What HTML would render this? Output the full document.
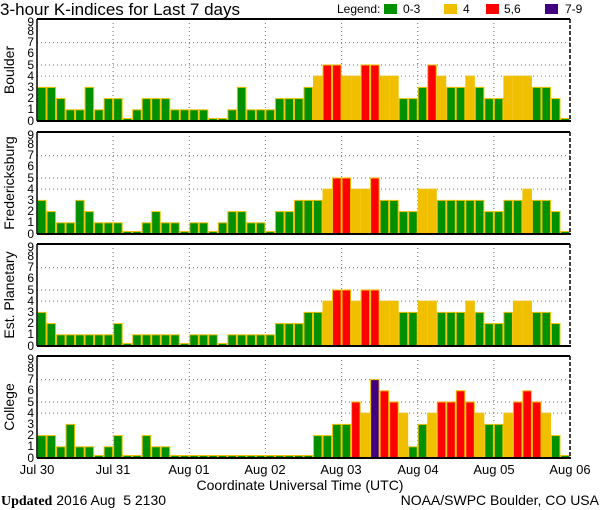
<!DOCTYPE html>
<html><head><meta charset="utf-8"><style>
html,body{margin:0;padding:0;background:#fff;}
svg{display:block;font-family:"Liberation Sans",sans-serif;}
</style></head><body>
<svg id="s" width="600" height="510" viewBox="0 0 600 510" xmlns="http://www.w3.org/2000/svg">
<rect width="600" height="510" fill="#fff"/>
<text x="0" y="15" font-size="17" fill="#000">3-hour K-indices for Last 7 days</text>
<text x="337" y="13" font-size="12">Legend:</text>
<rect x="384" y="4" width="13" height="10" fill="#009000"/><text x="403" y="13" font-size="12">0-3</text>
<rect x="444" y="4" width="13" height="10" fill="#f0c000"/><text x="463" y="13" font-size="12">4</text>
<rect x="486" y="4" width="13" height="10" fill="#ff0000"/><text x="504" y="13" font-size="12">5,6</text>
<rect x="545" y="4" width="13" height="10" fill="#400080"/><text x="565" y="13" font-size="12">7-9</text>
<g id="panels"></g>
<g font-size="12" text-anchor="end">
<g transform="translate(0,19)"><text x="34" y="106">0</text><text x="34" y="94">1</text><text x="34" y="83">2</text><text x="34" y="72">3</text><text x="34" y="61">4</text><text x="34" y="50">5</text><text x="34" y="38">6</text><text x="34" y="27">7</text><text x="34" y="16">8</text><text x="34" y="7">9</text></g>
<g transform="translate(0,132)"><text x="34" y="106">0</text><text x="34" y="94">1</text><text x="34" y="83">2</text><text x="34" y="72">3</text><text x="34" y="61">4</text><text x="34" y="50">5</text><text x="34" y="38">6</text><text x="34" y="27">7</text><text x="34" y="16">8</text><text x="34" y="7">9</text></g>
<g transform="translate(0,244)"><text x="34" y="106">0</text><text x="34" y="94">1</text><text x="34" y="83">2</text><text x="34" y="72">3</text><text x="34" y="61">4</text><text x="34" y="50">5</text><text x="34" y="38">6</text><text x="34" y="27">7</text><text x="34" y="16">8</text><text x="34" y="7">9</text></g>
<g transform="translate(0,356)"><text x="34" y="106">0</text><text x="34" y="94">1</text><text x="34" y="83">2</text><text x="34" y="72">3</text><text x="34" y="61">4</text><text x="34" y="50">5</text><text x="34" y="38">6</text><text x="34" y="27">7</text><text x="34" y="16">8</text><text x="34" y="7">9</text></g>
</g>
<g font-size="14" text-anchor="middle">
<text transform="translate(14,70) rotate(-90)">Boulder</text>
<text transform="translate(14,183) rotate(-90)">Fredericksburg</text>
<text transform="translate(14,295) rotate(-90)">Est. Planetary</text>
<text transform="translate(14,407) rotate(-90)">College</text>
</g>
<g font-size="13" text-anchor="middle">
<text x="37" y="474">Jul 30</text>
<text x="113" y="474">Jul 31</text>
<text x="189" y="474">Aug 01</text>
<text x="265" y="474">Aug 02</text>
<text x="341" y="474">Aug 03</text>
<text x="418" y="474">Aug 04</text>
<text x="494" y="474">Aug 05</text>
<text x="570" y="474">Aug 06</text>
<text x="300" y="490" font-size="14">Coordinate Universal Time (UTC)</text>
</g>
<text x="1" y="505" font-size="14" font-family="Liberation Serif,serif" style="white-space:pre"><tspan font-weight="bold">Updated</tspan><tspan font-family="Liberation Sans,sans-serif"> 2016 Aug  5 2130</tspan></text>
<text x="599" y="505" font-size="14" text-anchor="end">NOAA/SWPC Boulder, CO USA</text>
</svg>
<script>
var data=[
[3,3,2,1,1,3,1,2, 2,0,1,2,2,2,1,1, 1,1,0,0,1,3,1,1, 1,2,2,2,3,4,5,5, 4,4,5,5,4,4,2,2, 3,5,4,3,3,4,3,2, 2,4,4,4,3,3,2,0],
[3,2,1,1,3,2,1,1, 1,0,0,1,2,1,1,0, 1,1,0,1,2,2,1,1, 0,2,2,3,3,3,4,5, 5,4,4,5,3,3,2,2, 4,4,3,3,3,3,3,2, 2,3,3,4,3,3,2,0],
[3,2,1,1,1,1,1,1, 2,0,1,1,1,1,1,0, 1,1,1,0,1,1,1,1, 1,2,2,2,3,3,4,5, 5,4,5,5,4,4,3,3, 4,4,3,3,3,4,3,2, 2,3,4,4,3,3,2,-1],
[2,2,1,3,1,1,0,1, 2,0,0,2,1,1,0,0, 0,0,0,0,0,0,0,0, 0,0,0,0,0,2,2,3, 3,5,4,7,6,5,4,1, 3,4,5,5,6,5,4,3, 3,4,5,6,5,4,2,0]];
var tops=[19,132,244,356],H=102,U=11.2,X0=37,X1=570,W=(X1-X0)/56;
var ns="http://www.w3.org/2000/svg",g=document.getElementById("panels");
function el(n,a){var e=document.createElementNS(ns,n);for(var k in a)e.setAttribute(k,a[k]);g.appendChild(e);return e;}
function col(v){return v<=3?"#009000":v==4?"#f0c000":v<=6?"#ff0000":"#400080";}
for(var p=0;p<4;p++){var t=tops[p],b=t+H;
 [4,5,7].forEach(function(v){var y=b-U*v;el("line",{x1:X0,x2:X1,y1:y,y2:y,stroke:"#888","stroke-dasharray":"1,3","stroke-width":1.2});});
 for(var d=1;d<7;d++){var x=X0+d*W*8;el("line",{x1:x,x2:x,y1:t,y2:b,stroke:"#888","stroke-dasharray":"1,3","stroke-width":1.2});}
 for(var k=0;k<56;k++){var v=data[p][k];if(v<0)continue;var h=v==0?2.5:U*v;
  el("rect",{x:X0+k*W+0.5,y:b-h,width:W-1,height:h,fill:col(v),stroke:"#f0c000","stroke-width":1});}
 el("line",{x1:X0,x2:X1,y1:t,y2:t,stroke:"#000","stroke-width":2});
 el("line",{x1:X0,x2:X1+1,y1:b,y2:b,stroke:"#000","stroke-width":2});
 el("line",{x1:X0,x2:X0,y1:t,y2:b,stroke:"#000","stroke-width":1.5});
 el("line",{x1:X1,x2:X1,y1:t,y2:b,stroke:"#000","stroke-width":1.5,"stroke-dasharray":"4,2"});
}
</script>
</body></html>
